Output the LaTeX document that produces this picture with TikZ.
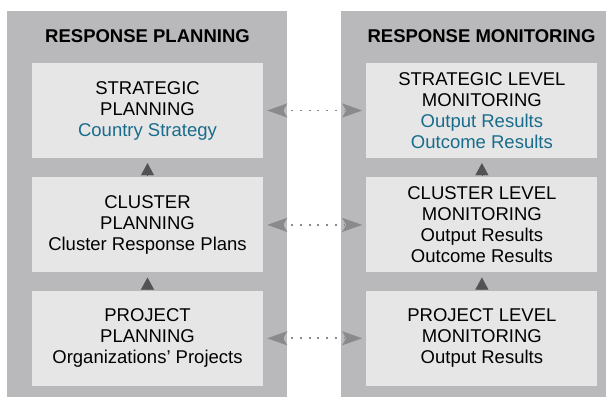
\documentclass[tikz,border=0pt]{standalone}
\usepackage{fontspec}
\setmainfont{Liberation Sans}
\usepackage{tikz}
\usetikzlibrary{positioning, arrows.meta}
\definecolor{panelgray}{RGB}{185,185,187}
\definecolor{boxgray}{RGB}{230,230,230}
\definecolor{textblue}{RGB}{24,108,140}
\definecolor{linkgray}{RGB}{138,138,140}
\definecolor{tipgray}{RGB}{82,82,84}
\tikzstyle{panel}=[fill=panelgray, inner sep=0pt, minimum height=386pt]
\tikzstyle{head}=[anchor=base, font=\bfseries\fontsize{18.5}{21}\selectfont]
\tikzstyle{int}=[fill=boxgray, minimum width=231pt, minimum height=95pt, align=center, inner sep=0pt, font=\fontsize{18.5}{21}\selectfont]
\tikzstyle{link}=[<->, linkgray, line width=1.8pt, dash pattern=on 1.8pt off 6.9pt, shorten <=4pt, shorten >=4pt]
\tikzstyle{climb}=[-{Triangle[length=12pt,width=13pt]}, tipgray, line width=0.1pt, shorten <=1.5pt, shorten >=5pt]

\begin{document}
\begin{tikzpicture}[x=1pt, y=-1pt, > = {Stealth[length=20pt,width=14pt,inset=4pt]}]
                    \useasboundingbox (0,0) rectangle (606,398);
                    % the two columns
                    \node [panel, minimum width=280pt] (plan) at (147,204) {};
                    \node [panel, minimum width=265pt] (mon) at (473.5,204) {};
                    \node [head] (planhead) at (147.5,43) {RESPONSE PLANNING};
                    \node [head] (monhead) at (481.5,43) {RESPONSE MONITORING};
                    % planning side
                    \node [int] (sp) at (147.5,110.5) {STRATEGIC\\PLANNING\\\textcolor{textblue}{Country Strategy}};
                    \node [int, below=19pt of sp] (cp) {CLUSTER\\PLANNING\\Cluster Response Plans};
                    \node [int, below=18pt of cp] (pp) {PROJECT\\PLANNING\\Organizations’ Projects};
                    % monitoring side
                    \node [int, right=103pt of sp] (sm) {STRATEGIC LEVEL\\MONITORING\\\textcolor{textblue}{Output Results}\\\textcolor{textblue}{Outcome Results}};
                    \node [int, right=103pt of cp] (cm) {CLUSTER LEVEL\\MONITORING\\Output Results\\Outcome Results};
                    \node [int, right=103pt of pp] (pm) {PROJECT LEVEL\\MONITORING\\Output Results};
                    \draw [climb] (cp) -- (sp);
                    \draw [climb] (pp) -- (cp);
                    \draw [climb] (cm) -- (sm);
                    \draw [climb] (pm) -- (cm);
                    \draw [link] (sp) -- (sm);
                    \draw [link] (cp) -- (cm);
                    \draw [link] (pp) -- (pm);
                \end{tikzpicture}
\end{document}
